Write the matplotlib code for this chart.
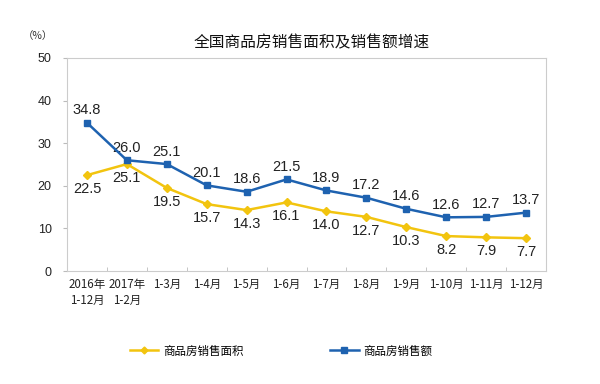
import matplotlib
matplotlib.use("Agg")
import matplotlib.pyplot as plt
from matplotlib.lines import Line2D

plt.rcParams['font.family'] = ['Noto Sans CJK SC', 'DejaVu Sans']

categories = ["2016年\n1-12月", "2017年\n1-2月", "1-3月", "1-4月", "1-5月", "1-6月",
              "1-7月", "1-8月", "1-9月", "1-10月", "1-11月", "1-12月"]
area_growth = [22.5, 25.1, 19.5, 15.7, 14.3, 16.1, 14.0, 12.7, 10.3, 8.2, 7.9, 7.7]
sales_growth = [34.8, 26.0, 25.1, 20.1, 18.6, 21.5, 18.9, 17.2, 14.6, 12.6, 12.7, 13.7]
series_names = ["商品房销售面积", "商品房销售额"]
title = "全国商品房销售面积及销售额增速"

yellow = "#F2C40F"
blue = "#1E62B0"
num_font = ['Liberation Sans', 'DejaVu Sans']

fig = plt.figure(figsize=(6, 3.84), dpi=100)
ax = fig.add_axes([67/600, 1-271/384, (546-67)/600, (271-58)/384])

x = list(range(len(categories)))
ax.plot(x, area_growth, color=yellow, lw=1.8, marker='D', ms=4, zorder=3)
ax.plot(x, sales_growth, color=blue, lw=1.8, marker='s', ms=4.5, zorder=4)

for i, v in enumerate(sales_growth):
    ax.annotate(f"{v:.1f}", (i, v), xytext=(0, 4), textcoords='offset points',
                ha='center', va='bottom', fontsize=10.5, color='#222222', family=num_font)
for i, v in enumerate(area_growth):
    ax.annotate(f"{v:.1f}", (i, v), xytext=(0, -5), textcoords='offset points',
                ha='center', va='top', fontsize=10.5, color='#222222', family=num_font)

ax.set_xlim(-0.5, len(categories) - 0.5)
ax.set_ylim(0, 50)
ax.set_yticks([0, 10, 20, 30, 40, 50])
ax.set_xticks(x)
ax.set_xticklabels(categories, fontsize=8.3, color='#222222', linespacing=1.3)
ax.set_xticks([i + 0.5 for i in range(len(categories) - 1)], minor=True)
ax.tick_params(axis='x', which='major', length=0, pad=5)
ax.tick_params(axis='x', which='minor', direction='in', length=3, color='#bbbbbb')
ax.tick_params(axis='y', direction='out', length=3, color='#bbbbbb', labelsize=9, labelcolor='#222222', pad=8)
for lbl in ax.get_yticklabels():
    lbl.set_family(num_font)
for s in ax.spines.values():
    s.set_color('#cccccc')
    s.set_linewidth(0.8)
for lbl in ax.get_xticklabels():
    lbl.set_horizontalalignment('center')

fig.text(312/600, 1-43/384, title, ha='center', va='center', fontsize=11.3, color='#111111')
fig.text(38/600, 1-36/384, "（%）", ha='center', va='center', fontsize=7.5, color='#333333')

handles = [Line2D([0], [0], color=yellow, lw=1.8, marker='D', ms=3.5),
           Line2D([0], [0], color=blue, lw=1.8, marker='s', ms=4)]
fig.legend(handles, series_names, loc='center', bbox_to_anchor=(281/600, 1-351/384),
           ncol=2, frameon=False, fontsize=8.3, columnspacing=7.5, handlelength=2.5,
           handletextpad=0.4)

fig.savefig("out.png", dpi=100)
